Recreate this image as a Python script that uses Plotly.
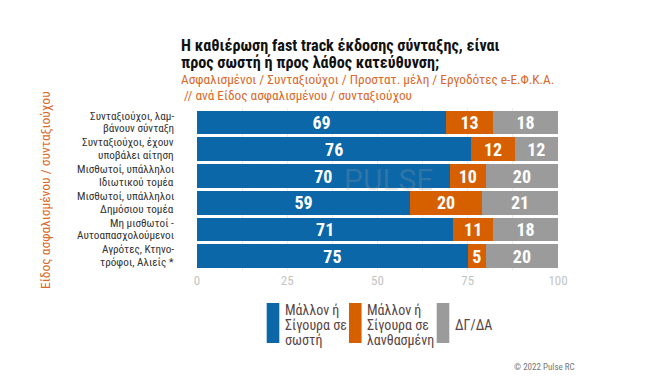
import plotly.graph_objects as go

categories = [
    "Συνταξιούχοι, λαμ-<br>βάνουν σύνταξη",
    "Συνταξιούχοι, έχουν<br>υποβάλει αίτηση",
    "Μισθωτοί, υπάλληλοι<br>Ιδιωτικού τομέα",
    "Μισθωτοί, υπάλληλοι<br>Δημόσιου τομέα",
    "Μη μισθωτοί -<br>Αυτοαπασχολούμενοι",
    "Αγρότες, Κτηνο-<br>τρόφοι, Αλιείς *",
]
correct = [69, 76, 70, 59, 71, 75]
wrong = [13, 12, 10, 20, 11, 5]
dkna = [18, 12, 20, 21, 18, 20]

series_names = ["Μάλλον ή<br>Σίγουρα σε<br>σωστή", "Μάλλον ή<br>Σίγουρα σε<br>λανθασμένη", "ΔΓ/ΔΑ"]
colors = ["#0b67a8", "#d65f00", "#9b9b9b"]
tick_vals = [0, 12.5, 25, 37.5, 50, 62.5, 75, 87.5, 100]
tick_text = ["0", "", "25", "", "50", "", "75", "", "100"]
title_lines = ["Η καθιέρωση fast track έκδοσης σύνταξης, είναι", "προς σωστή ή προς λάθος κατεύθυνση;"]
subtitle_lines = ["Ασφαλισμένοι / Συνταξιούχοι / Προστατ. μέλη / Εργοδότες e-Ε.Φ.Κ.Α.", " // ανά Είδος ασφαλισμένου / συνταξιούχου"]

FONT = "Roboto Condensed, Liberation Sans Narrow, DejaVu Sans Condensed, Roboto, sans-serif"
W, H = 648, 380

fig = go.Figure()
for vals, name, col in zip([correct, wrong, dkna], series_names, colors):
    fig.add_trace(go.Bar(
        y=categories, x=vals, orientation="h", name=name,
        marker=dict(color=col, line=dict(width=0)),
        text=vals, texttemplate="<b>%{text}</b>", textposition="inside", textangle=0,
        insidetextanchor="middle", constraintext="none",
        textfont=dict(color="white", size=18, family=FONT),
        showlegend=False, hoverinfo="skip",
    ))

fig.update_layout(
    width=W, height=H, autosize=False,
    barmode="stack", bargap=0.115,
    plot_bgcolor="white", paper_bgcolor="white",
    margin=dict(l=0, r=0, t=0, b=0, autoexpand=False),
    font=dict(family=FONT, color="#333333"),
    xaxis=dict(domain=[197/W, 558/W], range=[0, 100], tickvals=tick_vals, ticktext=tick_text,
               showgrid=True, gridcolor="#ececec", gridwidth=1, zeroline=False, automargin=False,
               tickfont=dict(size=13, color="#c4c4c4"), ticks="", showline=False),
    yaxis=dict(domain=[1-270.9/H, 1-107.8/H], autorange="reversed", automargin=False,
               showticklabels=False, ticks="", showgrid=False),
)

# category labels (one annotation per line, tight line spacing)
for cat in categories:
    lines = cat.split("<br>")
    for j, ln in enumerate(lines):
        fig.add_annotation(x=176/W, y=cat, xref="paper", yref="y", xanchor="right", yanchor="middle",
                           yshift=6.3 - 12.6*j, text=ln, showarrow=False, align="right",
                           font=dict(size=11.2, color="#333333", family=FONT))

# titles
for i, line in enumerate(title_lines):
    fig.add_annotation(x=179/W, y=1-(45.5+17.5*i)/H, xref="paper", yref="paper", xanchor="left", yanchor="middle",
                       text="<b>" + line + "</b>", showarrow=False, align="left",
                       font=dict(size=16.2, color="#111111", family=FONT))
for i, line in enumerate(subtitle_lines):
    fig.add_annotation(x=179/W, y=1-(80+16*i)/H, xref="paper", yref="paper", xanchor="left", yanchor="middle",
                       text=line, showarrow=False, align="left",
                       font=dict(size=13.3, color="#d9692a", family=FONT))
fig.add_annotation(x=45/W, y=1-190/H, xref="paper", yref="paper", xanchor="center", yanchor="middle",
                   text="Είδος ασφαλισμένου / συνταξιούχου", textangle=-90,
                   showarrow=False, font=dict(size=13.5, color="#d9692a", family=FONT))
# watermark
fig.add_annotation(x=388/W, y=1-179/H, xref="paper", yref="paper", text="PULSE", showarrow=False,
                   font=dict(size=30, color="rgba(160,160,160,0.25)", family="Roboto, sans-serif"))

# custom legend
legend_x = [266.7, 349, 436.7]
for lx, name, col in zip(legend_x, series_names, colors):
    fig.add_shape(type="rect", xref="paper", yref="paper",
                  x0=lx/W, x1=(lx+12.6)/W, y0=1-343/H, y1=1-303/H,
                  fillcolor=col, line=dict(width=0))
    lines = name.split("<br>")
    n = len(lines)
    for j, ln in enumerate(lines):
        yc = 325 + (j - (n - 1) / 2) * 15
        fig.add_annotation(x=(lx+16)/W, y=1-yc/H, xref="paper", yref="paper", xanchor="left", yanchor="middle",
                           text=ln, showarrow=False, align="left",
                           font=dict(size=14, color="#5a4545", family=FONT))

fig.add_annotation(x=577/W, y=1-367/H, xref="paper", yref="paper", xanchor="right", yanchor="middle",
                   text="© 2022 Pulse RC", showarrow=False, font=dict(size=9, color="#777777", family=FONT))

fig.write_html("out.html", config={"displayModeBar": False},
               post_script="document.body.style.margin='0';document.body.style.overflow='hidden';")
